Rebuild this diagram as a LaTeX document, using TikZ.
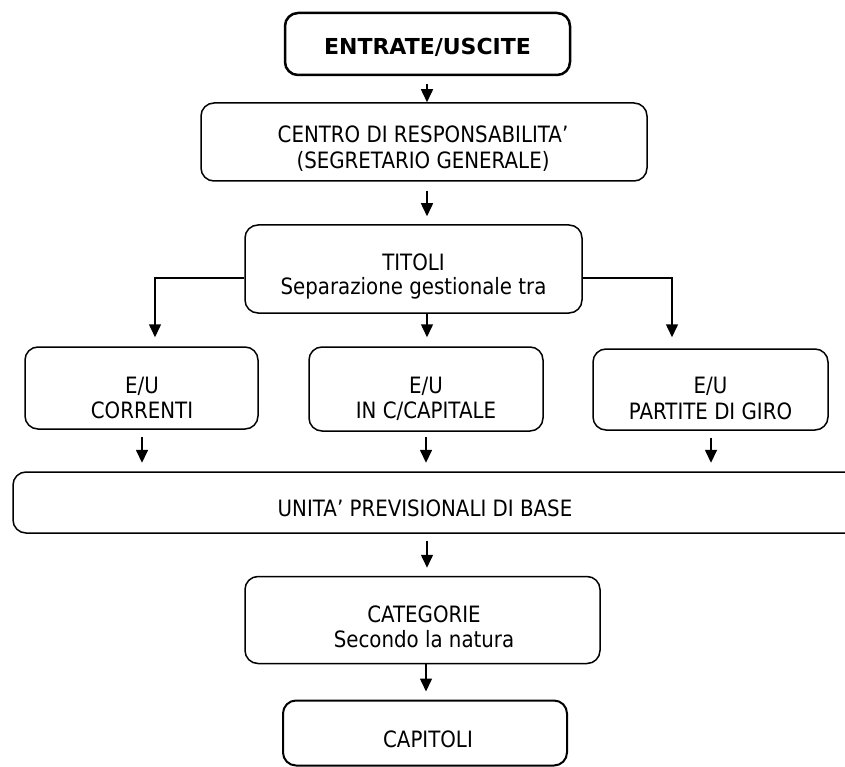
\documentclass[tikz,border=0pt]{standalone}
\usepackage{fontspec}
\setmainfont[FakeStretch=0.88]{DejaVu Sans}
\newfontfamily\headfont{DejaVu Sans}
\usetikzlibrary{arrows.meta}
\begin{document}
\begin{tikzpicture}[x=1pt,y=-1pt,
  box/.style={draw, line width=1.5pt, rounded corners=13pt, inner sep=0pt},
  txt/.style={inner sep=0pt, anchor=base, font=\fontsize{22.5}{26}\selectfont},
  btxt/.style={inner sep=0pt, anchor=base, font=\headfont\fontsize{22}{26}\selectfont\bfseries},
  arr/.style={line width=1.5pt, -{Triangle[width=12pt,length=13pt]}}]
\useasboundingbox (0,0) rectangle (845,767);
% x positions of connectors
\coordinate (xm) at (427,0);
\coordinate (xl) at (155,0);
\coordinate (xr) at (672,0);
\coordinate (xa) at (142,0);
\coordinate (xc) at (426,0);
\coordinate (xg) at (711,0);
\coordinate (yb) at (0,278);
% boxes
\node[box, line width=2.5pt, minimum width=285pt, minimum height=62pt] (top) at (427.5,44) {};
\node[btxt] (topt) at (427.5,55) {ENTRATE/USCITE};
\node[box, minimum width=446pt, minimum height=78pt] (centro) at (424,142) {};
\node[txt] (centro1) at (423,143) {CENTRO DI RESPONSABILITA’};
\node[txt] (centro2) at (423,169) {(SEGRETARIO GENERALE)};
\node[box, minimum width=337pt, minimum height=88pt] (titoli) at (413.5,269) {};
\node[txt] (titoli1) at (413.5,270) {TITOLI};
\node[txt] (titoli2) at (413.5,294) {Separazione gestionale tra};
\node[box, minimum width=233pt, minimum height=82pt] (corr) at (141.5,388) {};
\node[txt] (corr1) at (142,393) {E/U};
\node[txt] (corr2) at (142,418) {CORRENTI};
\node[box, minimum width=234pt, minimum height=84pt] (cap) at (426,389) {};
\node[txt] (cap1) at (426,393) {E/U};
\node[txt] (cap2) at (426,418) {IN C/CAPITALE};
\node[box, minimum width=235pt, minimum height=81pt] (giro) at (710.5,389.5) {};
\node[txt] (giro1) at (710.5,393) {E/U};
\node[txt] (giro2) at (710.5,419) {PARTITE DI GIRO};
% open box on the right
\node[inner sep=0pt, minimum width=832pt, minimum height=61pt] (upb) at (429,502.5) {};
\draw[line width=1.5pt, rounded corners=13pt] (845,472) -- (13,472) -- (13,533) -- (845,533);
\node[txt] (upbt) at (425,516) {UNITA’ PREVISIONALI DI BASE};
\node[box, minimum width=355pt, minimum height=87pt] (cat) at (422.5,620) {};
\node[txt] (cat1) at (424,622) {CATEGORIE};
\node[txt] (cat2) at (424,647) {Secondo la natura};
\node[box, line width=2pt, minimum width=284pt, minimum height=65pt] (capit) at (425,733) {};
\node[txt] (capitt) at (428,747) {CAPITOLI};
% connectors
\draw[arr, shorten <=8pt] (top.south -| xm) -- (centro.north -| xm);
\draw[arr, shorten <=9pt, shorten >=8pt] (centro.south -| xm) -- (titoli.north -| xm);
\draw[arr, shorten >=9pt] (titoli.south -| xm) -- (cap.north -| xm);
\draw[arr, shorten >=9pt] (titoli.west |- yb) -| (corr.north -| xl);
\draw[arr, shorten >=11pt] (titoli.east |- yb) -| (giro.north -| xr);
\draw[arr, shorten <=7pt, shorten >=9pt] (corr.south -| xa) -- (upb.north -| xa);
\draw[arr, shorten <=5pt, shorten >=9pt] (cap.south -| xc) -- (upb.north -| xc);
\draw[arr, shorten <=7pt, shorten >=9pt] (giro.south -| xg) -- (upb.north -| xg);
\draw[arr, shorten <=8pt, shorten >=8pt] (upb.south -| xm) -- (cat.north -| xm);
\draw[arr, shorten >=8pt] (cat.south -| xc) -- (capit.north -| xc);
\end{tikzpicture}
\end{document}
